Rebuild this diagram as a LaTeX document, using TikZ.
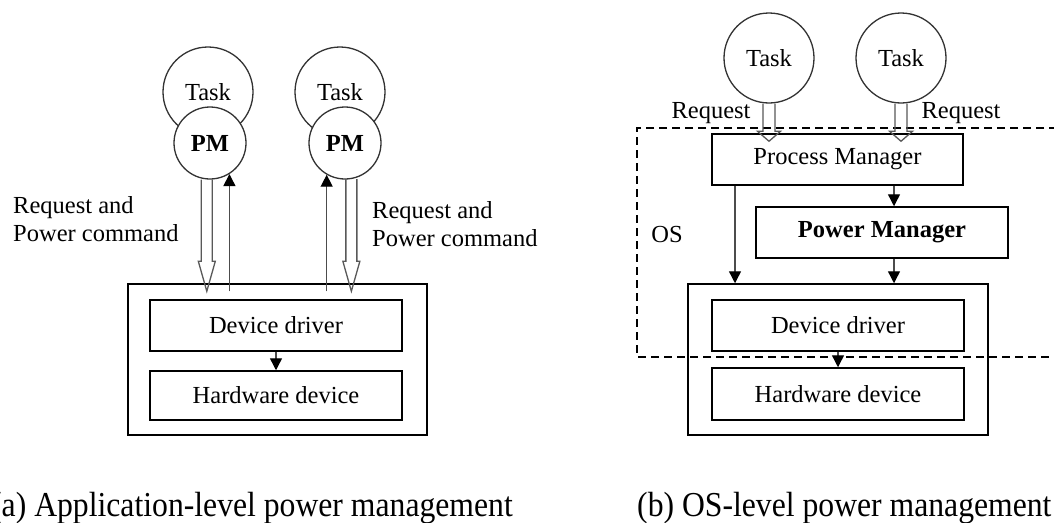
\documentclass[tikz,border=0pt]{standalone}
\usepackage{fontspec}
\usepackage{graphicx}
\setmainfont{Liberation Serif}
\usetikzlibrary{arrows.meta,calc}

\newcommand\diagfont{\fontsize{24.5}{28}\selectfont}
\newcommand\capfont{\fontsize{35}{40}\selectfont}
\newcommand\captxt[1]{\scalebox{0.905}[1]{#1}}

% open double-shaft arrow from #1 (start) to #2 (tip):
% #3 half shaft width, #4 half head width, #5 head length
\newcommand\hollowarrow[5]{%
  \draw[hollow] let \p1=(#1), \p2=(#2) in
    (\x2-#3,\y1) -- (\x2-#3,\y2+#5) -- (\x2-#4,\y2+#5) -- (\x2,\y2)
    -- (\x2+#4,\y2+#5) -- (\x2+#3,\y2+#5) -- (\x2+#3,\y1);}

\begin{document}
\begin{tikzpicture}[x=1pt,y=-1pt,
  lbl/.style={font=\diagfont, inner sep=0pt},
  taskc/.style={circle, draw=black!80, line width=1.3pt, minimum size=90pt,
                inner sep=0pt, font=\diagfont},
  pmc/.style={circle, draw=black!80, line width=1.3pt, fill=white,
              minimum size=72pt, inner sep=0pt, font=\diagfont\bfseries},
  blk/.style={draw, line width=1.5pt, inner sep=0pt, font=\diagfont,
              minimum width=252pt, minimum height=51pt},
  outerbox/.style={draw, line width=1.5pt, inner sep=0pt,
                   minimum width=300pt, minimum height=151pt},
  conn/.style={draw=black!70, line width=1.4pt,
               -{Triangle[length=12pt,width=12pt,color=black]}},
  hollow/.style={draw=black!65, line width=1.3pt, line join=miter},
  osframe/.style={line width=1.3pt, dash pattern=on 8pt off 5pt},
  captext/.style={font=\capfont, inner sep=0pt, anchor=base west}]

\useasboundingbox (0,0) rectangle (1054,522);
\fill[white] (0,0) rectangle (1054,522);
\clip (0,0) rectangle (1054,522);

% ---------------- (a) application-level ----------------
\node[taskc] (task1) at (208,92) {Task};
\node[taskc] (task2) at (340,92) {Task};
\node[pmc] (pm1) at (210,143) {PM};
\node[pmc] (pm2) at (345,143) {PM};

\node[outerbox, minimum width=299pt] (ob1) at (277.5,359.5) {};
\node[blk] (dd1) at (276,325.5) {Device driver};
\node[blk, minimum height=49pt] (hd1) at (276,395.5) {Hardware device};
\draw[conn] (dd1.south) -- (hd1.north);

\coordinate (tip1) at ($(pm1.-95 |- ob1.north)+(0,8)$);
\coordinate (tip2) at ($(pm2.-80 |- ob1.north)+(0,8)$);
\hollowarrow{pm1.-95}{tip1}{5.5}{8.5}{30}
\hollowarrow{pm2.-80}{tip2}{5.5}{8.5}{30}
\draw[conn] ($(pm1.-58 |- ob1.north)+(0,8)$) -- (pm1.-58);
\draw[conn] ($(pm2.-120 |- ob1.north)+(0,8)$) -- (pm2.-120);

\node[lbl, anchor=west, align=left] (rqa) at (13,219) {Request and\\Power command};
\node[lbl, anchor=west, align=left] (rqb) at (372,224) {Request and\\Power command};

\node[captext] (capa) at (-9,516) {\captxt{(a) Application-level power management}};

% ---------------- (b) OS-level ----------------
\draw[osframe] (1070,128) -- (637,128) -- (637,357) -- (1070,357);
\node[lbl] (oslbl) at (667,235) {OS};

\node[taskc] (task3) at (769,58) {Task};
\node[taskc] (task4) at (901,58) {Task};

\node[blk, minimum width=251pt] (procm) at (837.5,159.5) {Process Manager};
\node[blk, font=\diagfont\bfseries] (powm) at (882,232.5) {Power Manager};
\node[outerbox] (ob2) at (838,359.5) {};
\node[blk] (dd2) at (838,325.5) {Device driver};
\node[blk, minimum height=52pt] (hd2) at (838,394) {Hardware device};

\coordinate (tip3) at ($(task3.south |- procm.north)+(0,8)$);
\coordinate (tip4) at ($(task4.south |- procm.north)+(0,8)$);
\hollowarrow{task3.south}{tip3}{6}{11.5}{10}
\hollowarrow{task4.south}{tip4}{6}{11.5}{10}
\node[lbl] (rqc) at (711,113) {Request};
\node[lbl] (rqd) at (961,113) {Request};

\coordinate (colA) at (894,0);
\coordinate (colB) at (735,0);
\draw[conn] (colA |- procm.south) -- (colA |- powm.north);
\draw[conn] (colB |- procm.south) -- (colB |- ob2.north);
\draw[conn] (colA |- powm.south) -- (colA |- ob2.north);
\draw[conn] (dd2.south) -- (hd2.north);

\node[captext] (capb) at (637,516) {\captxt{(b) OS-level power management}};
\end{tikzpicture}
\end{document}
